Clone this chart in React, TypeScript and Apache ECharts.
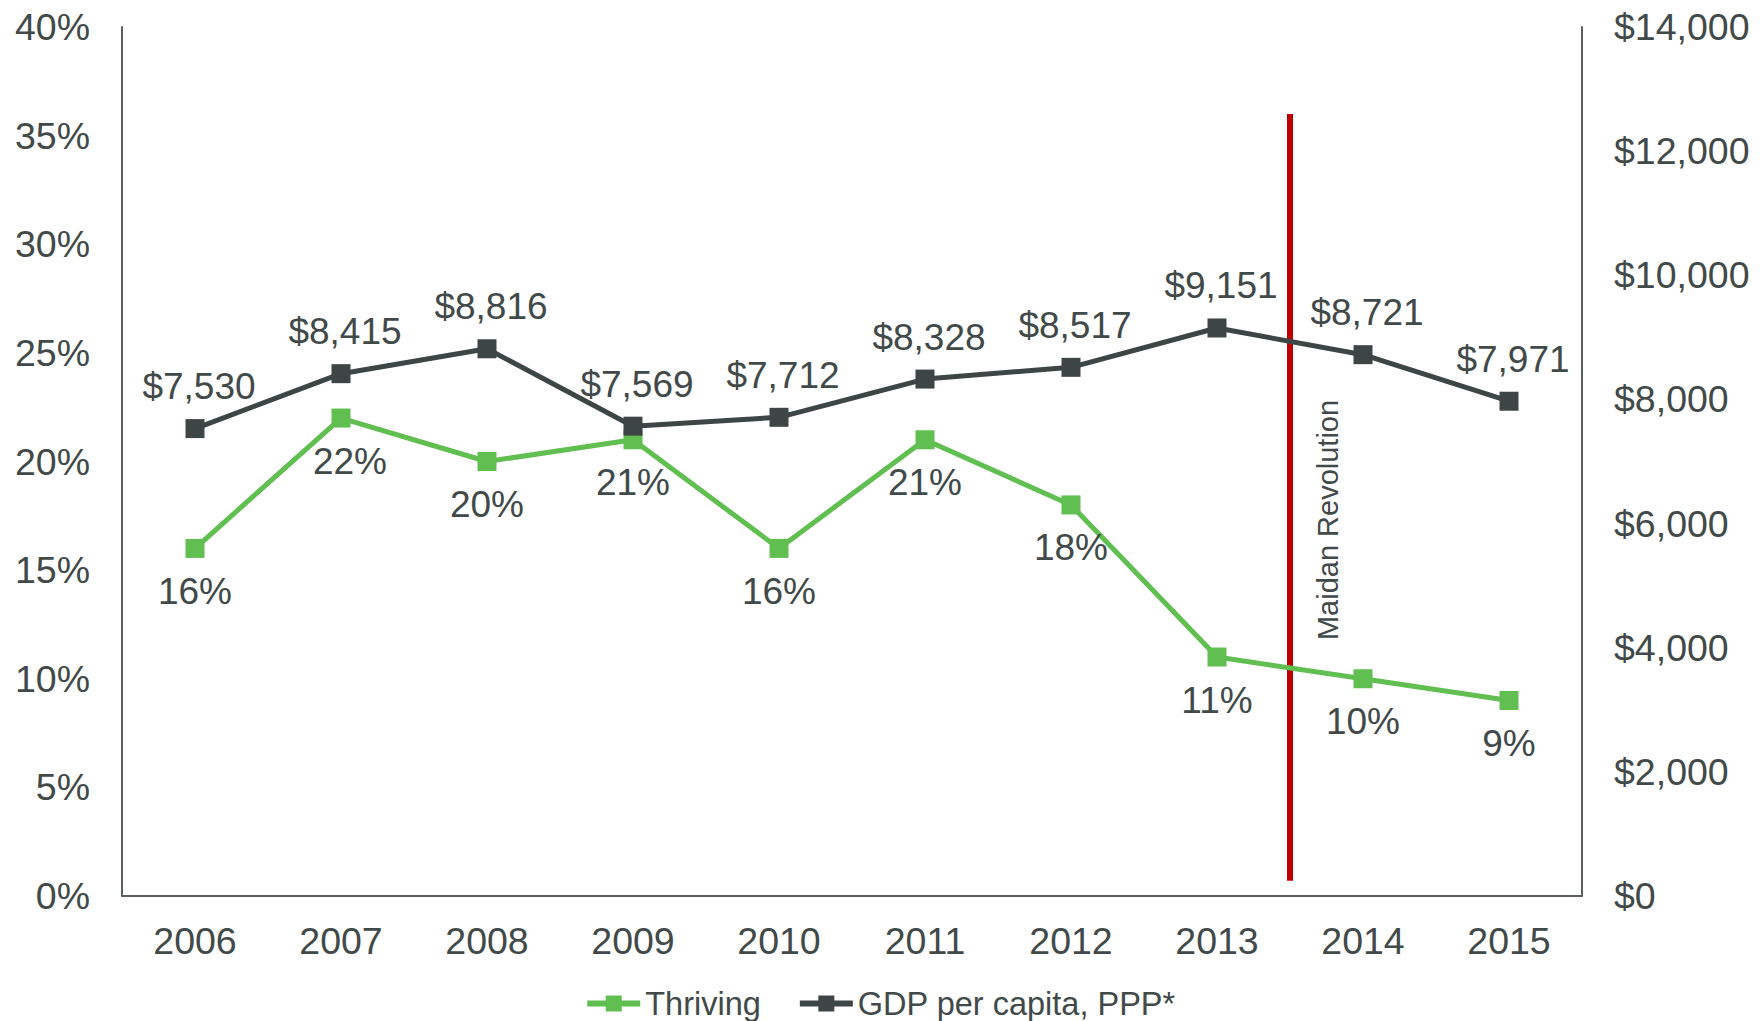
import React, { useEffect, useRef } from "react";
import * as echarts from "echarts";

const years = ["2006", "2007", "2008", "2009", "2010", "2011", "2012", "2013", "2014", "2015"];
const thriving = [16, 22, 20, 21, 16, 21, 18, 11, 10, 9];
const gdp = [7530, 8415, 8816, 7569, 7712, 8328, 8517, 9151, 8721, 7971];
const leftTicks = { min: 0, max: 40, interval: 5 };
const rightTicks = { min: 0, max: 14000, interval: 2000 };
// Maidan Revolution marker: between 2013 and 2014 (category index 7.5), spanning left-axis values
const maidanX = 7.5;
const maidanY = [0.7, 36];
const maidanLabel = "Maidan Revolution";

const TEXT = "#414949";
const GREEN = "#60BF50";
const DARK = "#3E4545";
const RED = "#C00000";
const AXIS = "#5A5F5F";
const FONT = "'Liberation Sans', Arial, sans-serif";

export default function App() {
  const ref = useRef<HTMLDivElement>(null);
  useEffect(() => {
    if (!ref.current) return;
    const chart = echarts.init(ref.current, undefined, { renderer: "svg" });
    const fmtMoney = (v: number) => "$" + Math.round(v).toLocaleString("en-US");
    chart.setOption({
      animation: false,
      textStyle: { fontFamily: FONT, color: TEXT },
      grid: { left: 122, right: 178, top: 27, bottom: 125, containLabel: false },
      legend: {
        bottom: -4,
        left: "center",
        itemWidth: 53,
        itemHeight: 20,
        itemGap: 36,
        lineStyle: { width: 6 },
        textStyle: { fontSize: 32.5, color: TEXT, fontFamily: FONT },
        data: ["Thriving", "GDP per capita, PPP*"],
      },
      xAxis: [
        {
          type: "category",
          data: years,
          boundaryGap: true,
          axisLine: { show: true, onZero: false, lineStyle: { color: AXIS, width: 2 } },
          axisTick: { show: false },
          axisLabel: { fontSize: 37.5, color: TEXT, margin: 26, fontFamily: FONT },
          splitLine: { show: false },
        },
        {
          type: "value",
          min: -0.5,
          max: 9.5,
          show: false,
          position: "top",
          axisLine: { show: false, onZero: false },
          splitLine: { show: false },
        },
      ],
      yAxis: [
        {
          type: "value",
          min: leftTicks.min,
          max: leftTicks.max,
          interval: leftTicks.interval,
          axisLine: { show: true, onZero: false, lineStyle: { color: AXIS, width: 2 } },
          axisTick: { show: false },
          splitLine: { show: false },
          axisLabel: { fontSize: 37.5, color: TEXT, margin: 32, formatter: "{value}%", fontFamily: FONT },
        },
        {
          type: "value",
          min: rightTicks.min,
          max: rightTicks.max,
          interval: rightTicks.interval,
          position: "right",
          axisLine: { show: true, onZero: false, lineStyle: { color: AXIS, width: 2 } },
          axisTick: { show: false },
          splitLine: { show: false },
          axisLabel: { fontSize: 37.5, color: TEXT, margin: 32, formatter: (v: number) => fmtMoney(v), fontFamily: FONT },
        },
      ],
      graphic: [
        {
          type: "text",
          x: 1328,
          y: 520,
          rotation: Math.PI / 2,
          style: {
            text: maidanLabel,
            fontSize: 29,
            fontFamily: FONT,
            fill: TEXT,
            align: "center",
            verticalAlign: "middle",
            textAlign: "center",
            textVerticalAlign: "middle",
          },
          z: 5,
        },
      ],
      series: [
        {
          name: "Maidan",
          type: "line",
          xAxisIndex: 1,
          yAxisIndex: 0,
          data: maidanY.map((y) => [maidanX, y]),
          symbol: "none",
          lineStyle: { color: RED, width: 6 },
          z: 1,
          silent: true,
        },
        {
          name: "Thriving",
          type: "line",
          xAxisIndex: 0,
          yAxisIndex: 0,
          data: thriving.map((v, i) =>
            i === 1 ? { value: v, label: { offset: [9, 0] } } : v
          ),
          symbol: "rect",
          symbolSize: 19,
          lineStyle: { color: GREEN, width: 5 },
          itemStyle: { color: GREEN },
          label: {
            show: true,
            position: "bottom",
            distance: 15,
            fontSize: 37,
            color: TEXT,
            fontFamily: FONT,
            formatter: (p: any) => p.value + "%",
          },
          z: 3,
        },
        {
          name: "GDP per capita, PPP*",
          type: "line",
          xAxisIndex: 0,
          yAxisIndex: 1,
          data: gdp,
          symbol: "rect",
          symbolSize: 19,
          lineStyle: { color: DARK, width: 5 },
          itemStyle: { color: DARK },
          label: {
            show: true,
            position: "top",
            distance: 14,
            offset: [4, 0],
            fontSize: 37,
            color: TEXT,
            fontFamily: FONT,
            formatter: (p: any) => fmtMoney(p.value),
          },
          z: 4,
        },
      ],
    });
    return () => chart.dispose();
  }, []);
  return <div ref={ref} style={{ width: 1760, height: 1021, position: "absolute", left: 0, top: 0 }} />;
}
